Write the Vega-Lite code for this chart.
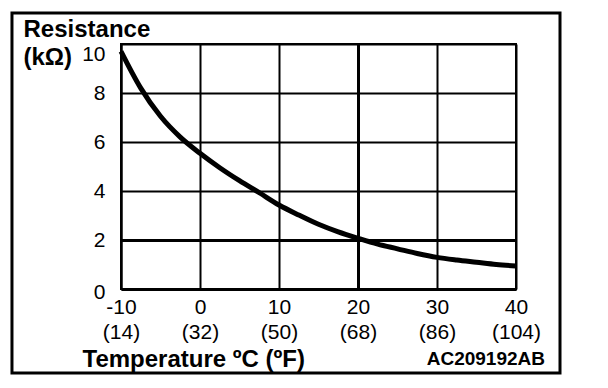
{
  "$schema": "https://vega.github.io/schema/vega-lite/v6.json",
  "width": 395,
  "height": 245,
  "autosize": "none",
  "padding": {"left": 121, "top": 44, "right": 92, "bottom": 99},
  "background": "white",
  "title": {
    "text": "AC209192AB",
    "orient": "bottom",
    "anchor": "end",
    "frame": "group",
    "font": "Liberation Sans",
    "fontSize": 19,
    "fontWeight": "bold",
    "color": "black",
    "offset": 0,
    "dx": 29,
    "dy": -25
  },
  "data": {
    "values": [
      {"t": -10, "r": 9.7},
      {"t": -7.5, "r": 8.2},
      {"t": -5, "r": 7.05},
      {"t": -2.5, "r": 6.2},
      {"t": 0, "r": 5.54},
      {"t": 2.5, "r": 4.95},
      {"t": 5, "r": 4.42},
      {"t": 7.5, "r": 3.93},
      {"t": 10, "r": 3.43},
      {"t": 12.5, "r": 3.02},
      {"t": 15, "r": 2.64},
      {"t": 17.5, "r": 2.33},
      {"t": 20, "r": 2.07},
      {"t": 22.5, "r": 1.83},
      {"t": 25, "r": 1.64},
      {"t": 27.5, "r": 1.45},
      {"t": 30, "r": 1.29},
      {"t": 32.5, "r": 1.18},
      {"t": 35, "r": 1.09},
      {"t": 37.5, "r": 1.0},
      {"t": 40, "r": 0.94}
    ]
  },
  "layer": [
    {
      "data": {"values": [{}]},
      "mark": {"type": "rect", "filled": false, "stroke": "black", "strokeWidth": 3, "clip": false},
      "encoding": {
        "x": {"datum": -23.8, "type": "quantitative"},
        "x2": {"datum": 45.57},
        "y": {"datum": 11.27, "type": "quantitative"},
        "y2": {"datum": -3.43}
      }
    },
    {
      "mark": {"type": "line", "interpolate": "monotone", "stroke": "black", "strokeWidth": 5},
      "encoding": {
        "x": {
          "field": "t",
          "type": "quantitative",
          "scale": {"domain": [-10, 40], "nice": false, "zero": false},
          "axis": {
            "values": [-10, 0, 10, 20, 30, 40],
            "title": "Temperature ºC (ºF)",
            "titleFont": "Liberation Sans",
            "titleFontSize": 24,
            "titleFontWeight": "bold",
            "titleColor": "black",
            "titleX": -39,
            "titleY": 77,
            "titleAlign": "left",
            "titleAnchor": "start",
            "titleBaseline": "alphabetic",
            "labelExpr": "[datum.value + '', '(' + (datum.value * 9 / 5 + 32) + ')']",
            "labelFont": "Liberation Sans",
            "labelFontSize": 21,
            "labelColor": "black",
            "labelLineHeight": 25,
            "labelPadding": 7,
            "labelFlush": false,
            "labelOverlap": false,
            "ticks": false,
            "domainColor": "black",
            "domainWidth": 3,
            "grid": true,
            "gridColor": "black",
            "gridOpacity": 1,
            "gridWidth": {"condition": {"test": "datum.value === 20", "value": 3}, "value": 2}
          }
        },
        "y": {
          "field": "r",
          "type": "quantitative",
          "scale": {"domain": [0, 10], "nice": false, "zero": false},
          "axis": {
            "values": [0, 2, 4, 6, 8, 10],
            "title": ["Resistance", "(kΩ)"],
            "titleFont": "Liberation Sans",
            "titleFontSize": 24,
            "titleFontWeight": "bold",
            "titleColor": "black",
            "titleAngle": 0,
            "titleX": -98,
            "titleY": -8,
            "titleAlign": "left",
            "titleAnchor": "start",
            "titleBaseline": "alphabetic",
            "titleLineHeight": 28,
            "labelFont": "Liberation Sans",
            "labelFontSize": 21,
            "labelColor": "black",
            "labelPadding": 16,
            "labelFlush": false,
            "labelOverlap": false,
            "labelOffset": {"condition": [{"test": "datum.value === 10", "value": 10}, {"test": "datum.value === 0", "value": 3}], "value": 0},
            "ticks": false,
            "domainColor": "black",
            "domainWidth": 2,
            "grid": true,
            "gridColor": "black",
            "gridOpacity": 1,
            "gridWidth": {"condition": {"test": "datum.value === 2", "value": 3}, "value": 2}
          }
        }
      }
    }
  ],
  "config": {
    "view": {"stroke": "black", "strokeWidth": 2}
  }
}
